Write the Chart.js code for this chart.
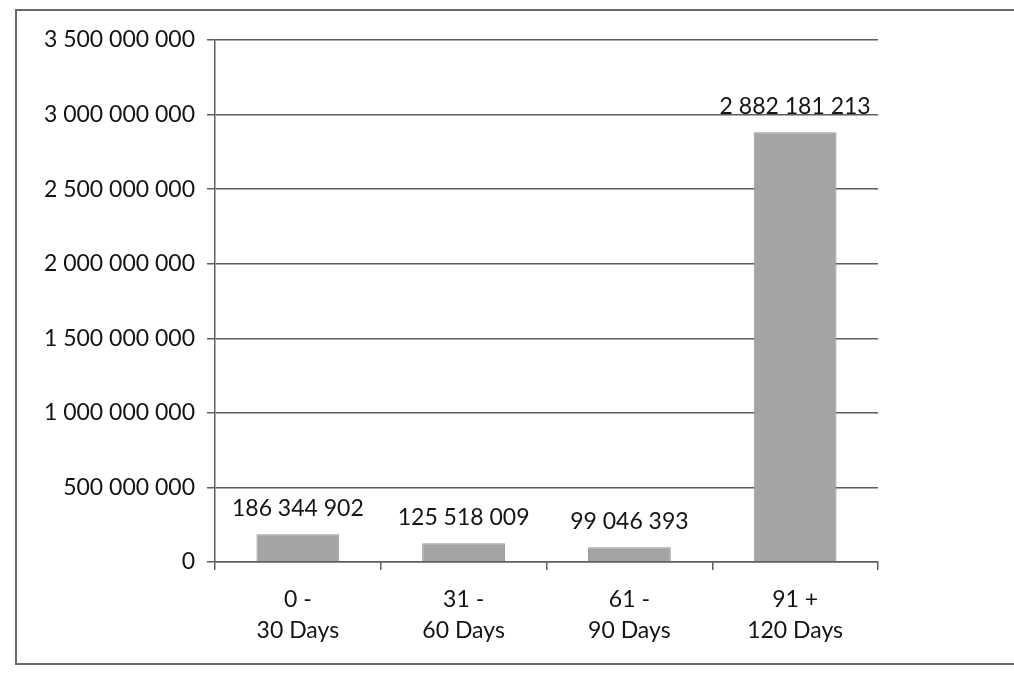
<!DOCTYPE html>
<html>
<head>
<meta charset="utf-8">
<script src="https://cdn.jsdelivr.net/npm/chart.js@4.4.0/dist/chart.umd.min.js"></script>
<style>
  html, body { margin: 0; padding: 0; background: #ffffff; overflow: hidden; }
  #wrap { position: relative; width: 1014px; height: 674px; }
  #frame { position: absolute; left: 15px; top: 9px; width: 1030px; height: 656px; border: 2px solid #6a6a6a; box-sizing: border-box; }
  canvas { position: absolute; left: 0; top: 0; }
</style>
</head>
<body>
<div id="wrap">
  <div id="frame"></div>
  <canvas id="c" width="1014" height="674"></canvas>
</div>
<script>
const categories = [["0 -", "30 Days"], ["31 -", "60 Days"], ["61 -", "90 Days"], ["91 +", "120 Days"]];
const values = [186344902, 125518009, 99046393, 2882181213];
const yTicks = [0, 500000000, 1000000000, 1500000000, 2000000000, 2500000000, 3000000000, 3500000000];

function fmt(v) {
  return Math.round(v).toString().replace(/\B(?=(\d{3})+(?!\d))/g, ' ');
}

const FONT = 'Lato, "Open Sans", sans-serif';

const dataLabels = {
  id: 'dataLabels',
  afterDatasetsDraw(chart) {
    const ctx = chart.ctx;
    const meta = chart.getDatasetMeta(0);
    ctx.save();
    ctx.font = '23px ' + FONT;
    ctx.fillStyle = '#141414';
    ctx.textAlign = 'center';
    ctx.textBaseline = 'alphabetic';
    meta.data.forEach((bar, i) => {
      ctx.fillText(fmt(values[i]), bar.x, bar.y - 18);
    });
    ctx.restore();
  }
};

new Chart(document.getElementById('c'), {
  type: 'bar',
  data: {
    labels: categories,
    datasets: [{
      data: values,
      backgroundColor: '#a4a4a4',
      borderColor: '#969696',
      borderWidth: 1,
      barPercentage: 0.5,
      categoryPercentage: 1.0
    }]
  },
  options: {
    responsive: false,
    animation: false,
    devicePixelRatio: 1,
    layout: { padding: { top: 40, right: 136, bottom: 0, left: 0 } },
    plugins: {
      legend: { display: false },
      tooltip: { enabled: false },
      title: { display: false }
    },
    scales: {
      x: {
        offset: true,
        grid: {
          display: true,
          drawOnChartArea: false,
          drawTicks: true,
          tickLength: 8,
          offset: true,
          color: '#5e5e5e',
          lineWidth: 1.5
        },
        border: { display: true, color: '#5e5e5e', width: 1.5 },
        ticks: {
          color: '#141414',
          font: { family: FONT, size: 23, lineHeight: 1.35 },
          padding: 14,
          maxRotation: 0,
          autoSkip: false
        },
        afterFit(scale) { scale.height = 112; }
      },
      y: {
        min: 0,
        max: 3500000000,
        afterBuildTicks(scale) {
          scale.ticks = yTicks.map(v => ({ value: v }));
        },
        grid: {
          color: '#5e5e5e',
          lineWidth: 1.5,
          drawTicks: true,
          tickLength: 8
        },
        border: { display: true, color: '#5e5e5e', width: 1.5 },
        ticks: {
          color: '#141414',
          font: { family: FONT, size: 23 },
          padding: 12,
          callback: (v) => fmt(v)
        },
        afterFit(scale) { scale.width = 215; }
      }
    }
  },
  plugins: [dataLabels]
});
</script>
</body>
</html>
